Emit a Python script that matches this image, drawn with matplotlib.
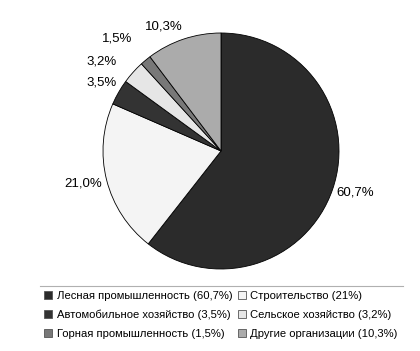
import numpy as np
import matplotlib
matplotlib.use("Agg")
import matplotlib.pyplot as plt
from matplotlib.lines import Line2D
from matplotlib.patches import Patch

plt.rcParams['font.family'] = ['Liberation Sans', 'DejaVu Sans']

# данные
names = ["Лесная промышленность (60,7%)", "Строительство (21%)",
         "Автомобильное хозяйство (3,5%)", "Сельское хозяйство (3,2%)",
         "Горная промышленность (1,5%)", "Другие организации (10,3%)"]
values = [60.7, 21.0, 3.5, 3.2, 1.5, 10.3]
pct_labels = ["60,7%", "21,0%", "3,5%", "3,2%", "1,5%", "10,3%"]
colors = ["#2b2b2b", "#f4f4f4", "#333333", "#e6e6e6", "#787878", "#ababab"]

# сдвиги подписей (радиус, поворот в градусах)
lab_r = [1.19, 1.2, 1.17, 1.26, 1.30, 1.16]
lab_da = [2, -1, 0, 5, 3, 6]

W, H = 420, 351
fig = plt.figure(figsize=(W / 100, H / 100), dpi=100)
cx, cy, r = 221, 151, 118
ax = fig.add_axes([(cx - r) / W, (H - cy - r) / H, 2 * r / W, 2 * r / H])

wedges, _ = ax.pie(values, colors=colors, startangle=90, counterclock=False,
                   wedgeprops=dict(edgecolor="black", linewidth=0.6))
ax.set_xlim(-1, 1)
ax.set_ylim(-1, 1)
ax.set_aspect("equal")
ax.axis("off")

for w, t, lr, da in zip(wedges, pct_labels, lab_r, lab_da):
    ang = np.deg2rad((w.theta1 + w.theta2) / 2 + da)
    x, y = lr * np.cos(ang), lr * np.sin(ang)
    ax.text(x, y, t, fontsize=9.5, ha="center", va="center", clip_on=False)

# линия над легендой
fig.add_artist(Line2D([40 / W, 403 / W], [1 - 286 / H, 1 - 286 / H],
                      color="#b0b0b0", linewidth=0.8))

order = [0, 2, 4, 1, 3, 5]
handles = [Patch(facecolor=colors[i], edgecolor="#555555", linewidth=0.6) for i in order]
fig.legend(handles, [names[i] for i in order], ncol=2, loc="upper left",
           bbox_to_anchor=(36 / W, 1 - 283 / H), frameon=False, fontsize=8.1,
           handlelength=0.75, handleheight=0.75, handletextpad=0.4,
           columnspacing=0.45, labelspacing=0.78, borderpad=0.2)

fig.savefig("out.png", dpi=100)
